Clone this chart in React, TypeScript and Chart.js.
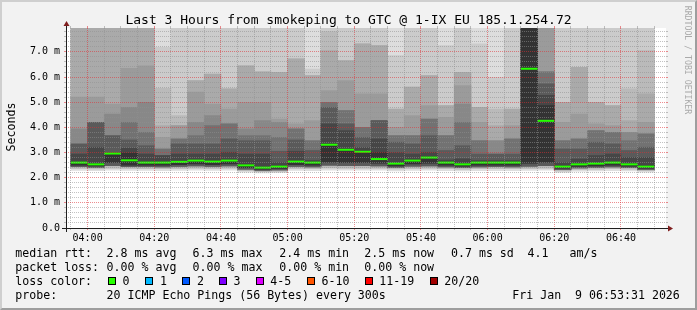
import React, { useEffect, useRef } from "react";
import { Chart, registerables } from "chart.js";

Chart.register(...registerables);

// ---------------- data ----------------
const titleText = "Last 3 Hours from smokeping to GTC @ 1-IX EU 185.1.254.72";
const yAxisTitle = "Seconds";
const windowStart = "03:53:31";
const windowEnd = "06:53:31";
const stepMinutes = 5;

// start time of each 5-minute column
const columnStarts = [
  "03:55", "04:00", "04:05", "04:10", "04:15", "04:20", "04:25", "04:30", "04:35", "04:40",
  "04:45", "04:50", "04:55", "05:00", "05:05", "05:10", "05:15", "05:20", "05:25", "05:30",
  "05:35", "05:40", "05:45", "05:50", "05:55", "06:00", "06:05", "06:10", "06:15", "06:20",
  "06:25", "06:30", "06:35", "06:40", "06:45",
];

// median rtt (ms)
const median = [
  2.60, 2.53, 2.96, 2.69, 2.60, 2.60, 2.63, 2.68, 2.64, 2.68,
  2.49, 2.40, 2.44, 2.64, 2.60, 3.31, 3.11, 3.03, 2.74, 2.56,
  2.68, 2.80, 2.60, 2.53, 2.60, 2.60, 2.60, 6.33, 4.26, 2.44,
  2.53, 2.56, 2.60, 2.53, 2.44,
];

// sorted ping percentiles, lower half (ms)
const lo1 = [
  2.29, 2.28, 2.30, 2.29, 2.29, 2.28, 2.29, 2.30, 2.29, 2.30,
  2.22, 2.19, 2.20, 2.29, 2.28, 2.30, 2.30, 2.30, 2.30, 2.27,
  2.29, 2.30, 2.28, 2.27, 2.28, 2.28, 2.28, 2.29, 2.30, 2.21,
  2.26, 2.27, 2.28, 2.27, 2.22,
];
const lo3 = [
  2.37, 2.35, 2.38, 2.37, 2.36, 2.36, 2.37, 2.38, 2.37, 2.38,
  2.28, 2.24, 2.26, 2.37, 2.36, 2.39, 2.38, 2.38, 2.38, 2.35,
  2.37, 2.38, 2.36, 2.34, 2.36, 2.36, 2.36, 2.37, 2.38, 2.27,
  2.33, 2.34, 2.36, 2.34, 2.28,
];
const lo8 = [
  2.44, 2.41, 2.48, 2.44, 2.44, 2.43, 2.45, 2.47, 2.45, 2.47,
  2.34, 2.29, 2.31, 2.45, 2.43, 2.50, 2.48, 2.48, 2.47, 2.41,
  2.46, 2.47, 2.43, 2.40, 2.43, 2.44, 2.43, 2.46, 2.48, 2.32,
  2.39, 2.41, 2.43, 2.40, 2.33,
];
const lo10 = [
  2.50, 2.47, 2.60, 2.50, 2.50, 2.50, 2.52, 2.55, 2.52, 2.55,
  2.40, 2.34, 2.37, 2.52, 2.50, 2.62, 2.60, 2.60, 2.58, 2.47,
  2.55, 2.58, 2.50, 2.46, 2.50, 2.50, 2.50, 2.58, 2.62, 2.38,
  2.45, 2.47, 2.50, 2.46, 2.38,
];

// sorted ping percentiles, upper half (ms)
const p11 = [
  2.62, 2.57, 2.98, 2.98, 2.62, 2.62, 2.65, 2.70, 2.66, 2.70,
  2.51, 2.42, 2.46, 2.66, 2.62, 3.34, 3.14, 3.05, 3.00, 2.58,
  2.70, 2.82, 2.62, 2.55, 2.62, 2.62, 2.62, 8.10, 4.87, 2.46,
  2.55, 2.58, 2.62, 2.55, 2.47,
];
const p12 = [
  2.94, 3.21, 2.98, 3.18, 2.94, 2.88, 2.94, 2.94, 2.94, 3.01,
  2.94, 2.94, 2.60, 3.05, 2.68, 4.14, 3.87, 3.20, 3.54, 3.00,
  2.94, 3.01, 2.70, 2.75, 2.68, 2.68, 2.68, 8.50, 5.27, 2.60,
  2.74, 2.88, 2.94, 2.81, 2.81,
];
const p13 = [
  3.34, 4.20, 3.67, 3.50, 3.27, 2.88, 3.34, 3.34, 3.34, 3.54,
  3.47, 3.47, 3.05, 3.50, 3.08, 4.80, 4.14, 3.60, 4.27, 3.41,
  3.34, 3.67, 3.08, 3.27, 2.94, 2.94, 2.94, 8.90, 5.73, 3.14,
  3.14, 3.41, 3.34, 3.08, 3.21,
];
const p14 = [
  3.34, 4.20, 3.67, 4.20, 3.80, 3.14, 3.54, 3.67, 4.07, 4.14,
  3.67, 3.67, 3.60, 3.94, 3.47, 5.00, 4.67, 4.00, 4.27, 3.67,
  3.67, 4.33, 3.67, 4.20, 3.47, 2.94, 3.54, 9.30, 6.21, 3.47,
  3.54, 3.87, 3.80, 3.47, 3.74,
];
const p15 = [
  3.94, 4.20, 4.53, 4.80, 5.00, 3.14, 3.54, 4.20, 4.47, 4.14,
  3.94, 4.27, 4.20, 3.94, 3.47, 5.00, 4.67, 4.00, 4.27, 3.67,
  3.67, 4.33, 3.67, 4.93, 3.47, 3.47, 3.54, 9.80, 6.21, 3.47,
  3.54, 3.87, 3.80, 3.80, 3.74,
];
const p16 = [
  5.20, 5.20, 4.93, 6.35, 6.45, 3.60, 4.07, 5.40, 4.93, 4.73,
  5.00, 5.00, 4.33, 4.14, 4.27, 5.46, 5.86, 5.33, 5.33, 4.00,
  4.47, 4.87, 4.40, 5.66, 4.20, 3.47, 4.07, 10.4, 8.60, 4.20,
  4.53, 4.14, 4.07, 3.80, 4.20,
];
const p17 = [
  8.60, 8.80, 8.70, 8.90, 8.70, 4.07, 4.07, 5.86, 6.12, 5.53,
  6.45, 6.21, 6.19, 6.72, 6.06, 7.05, 6.65, 7.32, 7.25, 4.73,
  5.60, 6.06, 4.87, 6.19, 4.80, 4.07, 4.73, 11.0, 9.20, 5.00,
  6.39, 5.00, 4.87, 4.27, 5.33,
];
const p18 = [
  9.20, 9.50, 9.40, 9.60, 9.40, 5.55, 4.47, 5.86, 6.12, 5.53,
  6.45, 6.21, 6.19, 6.72, 6.06, 7.81, 6.65, 7.32, 7.25, 4.73,
  5.60, 6.06, 4.87, 6.19, 4.80, 4.73, 4.73, 11.8, 9.90, 5.00,
  6.39, 5.00, 4.87, 5.53, 7.05,
];
const p19 = [
  9.90, 10.3, 10.1, 10.4, 10.2, 7.18, 8.60, 8.70, 8.80, 8.60,
  8.90, 8.70, 8.80, 8.90, 6.32, 8.80, 8.90, 9.00, 9.10, 6.85,
  8.70, 8.90, 7.25, 8.80, 7.32, 5.99, 8.70, 12.7, 10.7, 8.80,
  8.90, 8.70, 8.80, 8.90, 9.00,
];
const p20 = [
  10.7, 11.2, 11.0, 11.3, 11.1, 9.50, 9.40, 9.50, 9.60, 9.30,
  9.80, 9.60, 9.70, 9.90, 9.00, 9.80, 9.60, 9.90, 10.0, 9.00,
  9.50, 9.80, 9.20, 9.70, 9.30, 9.10, 9.50, 13.8, 11.6, 9.60,
  9.80, 9.50, 9.70, 9.90, 10.0,
];

const xTickLabels = ["04:00", "04:20", "04:40", "05:00", "05:20", "05:40", "06:00", "06:20", "06:40"];
const yMax = 7.95;
const yMinorStep = 0.2;
const yTickLabels = ["0.0", "1.0 m", "2.0 m", "3.0 m", "4.0 m", "5.0 m", "6.0 m", "7.0 m"];

const rttLabel = "median rtt:";
const rttStats = ["2.8 ms avg", "6.3 ms max", "2.4 ms min", "2.5 ms now", "0.7 ms sd", "4.1   am/s"];
const lossLabel = "packet loss:";
const lossStats = ["0.00 % avg", "0.00 % max", "0.00 % min", "0.00 % now"];
const lossColorLabel = "loss color:";
const lossBuckets = ["0", "1", "2", "3", "4-5", "6-10", "11-19", "20/20"];
const lossColors = ["#26ff00", "#00b8ff", "#0059ff", "#7e00ff", "#dd00ff", "#ff5500", "#ff0000", "#a10000"];
const probeLabel = "probe:";
const probeText = "20 ICMP Echo Pings (56 Bytes) every 300s";
const stampText = "Fri Jan  9 06:53:31 2026";
const watermark = "RRDTOOL / TOBI OETIKER";

// ---------------- styling / layout ----------------
const MONO = '"DejaVu Sans Mono", monospace';
const GRID = "rgba(143,143,143,0.55)";
const MGRID = "rgba(222,48,52,0.55)";
const AXIS = "#1f1f1f";
const ARROW = "#801f1f";
const LAYER_COLORS = ["#dddddd", "#cbcbcb", "#bababa", "#aaaaaa", "#9b9b9b", "#888888", "#727272", "#5a5a5a", "#464646", "#333333"];
const smokeHigh = [p20, p19, p18, p17, p16, p15, p14, p13, p12, p11];
const smokeLow = [lo1, lo3, lo3, lo8, lo8, lo8, lo8, lo8, lo10, lo10];

const statX = [107.3, 193.3, 280, 365, 451.7, 528.3];
const boxX = [108, 145, 182, 219, 256, 307, 365, 430];
const bucketX = [123.3, 160.7, 197.7, 234.3, 271, 322.3, 380, 445];

const toMinutes = (s: string) => {
  const [h, m, sec] = s.split(":").map(Number);
  return h * 60 + m + (sec || 0) / 60;
};
const fmtHM = (v: number) => {
  const t = Math.round(v);
  return `${String(Math.floor(t / 60)).padStart(2, "0")}:${String(t % 60).padStart(2, "0")}`;
};
const xMin = toMinutes(windowStart);
const xMax = toMinutes(windowEnd);
const isMajorX = (v: number) => Math.abs(v - Math.round(v)) < 1e-6 && xTickLabels.includes(fmtHM(v));
const isMajorY = (v: number) => Math.abs(v - Math.round(v)) < 1e-6;

const xGrid: number[] = [];
for (let v = Math.ceil(xMin / stepMinutes) * stepMinutes; v <= xMax; v += stepMinutes) xGrid.push(v);
const yGrid: number[] = [];
for (let i = 0; i * yMinorStep <= yMax + 1e-9; i++) yGrid.push(Math.round(i * yMinorStep * 10) / 10);

const align = (p: number) => Math.round(p - 0.5) + 0.5;

const rrdPlugin = {
  id: "rrdDecor",
  beforeDraw(chart: any) {
    const { ctx, chartArea: a } = chart;
    ctx.save();
    ctx.fillStyle = "#ffffff";
    ctx.fillRect(a.left, a.top, a.right - a.left, a.bottom - a.top);
    ctx.restore();
  },
  afterDraw(chart: any) {
    const { ctx, chartArea: a, scales } = chart;
    ctx.save();
    ctx.lineWidth = 1;
    const line = (x1: number, y1: number, x2: number, y2: number) => {
      ctx.beginPath();
      ctx.moveTo(x1, y1);
      ctx.lineTo(x2, y2);
      ctx.stroke();
    };
    scales.x.ticks.forEach((t: any) => {
      const px = align(scales.x.getPixelForValue(t.value));
      ctx.strokeStyle = isMajorX(t.value) ? MGRID : GRID;
      line(px, a.top - 2, px, a.top);
    });
    scales.y.ticks.forEach((t: any) => {
      const py = align(scales.y.getPixelForValue(t.value));
      ctx.strokeStyle = isMajorY(t.value) ? MGRID : GRID;
      line(a.right, py, a.right + 2, py);
    });
    ctx.strokeStyle = AXIS;
    const by = a.bottom + 0.5;
    const lx = a.left + 0.5;
    line(a.left - 4, by, a.right + 4, by);
    line(lx, a.bottom + 4, lx, a.top - 4);
    ctx.fillStyle = ARROW;
    ctx.beginPath();
    ctx.moveTo(a.right + 2, by - 3);
    ctx.lineTo(a.right + 2, by + 3);
    ctx.lineTo(a.right + 7, by);
    ctx.closePath();
    ctx.fill();
    ctx.beginPath();
    ctx.moveTo(lx - 3, a.top - 2);
    ctx.lineTo(lx + 3, a.top - 2);
    ctx.lineTo(lx, a.top - 7);
    ctx.closePath();
    ctx.fill();
    ctx.restore();
  },
};

function Txt({ x, base, size, children, color = "#000" }: any) {
  return (
    <div
      style={{
        position: "absolute",
        left: x,
        top: base - 0.846 * size,
        fontSize: size,
        lineHeight: `${size}px`,
        whiteSpace: "pre",
        color,
        fontFamily: MONO,
      }}
    >
      {children}
    </div>
  );
}

export default function App() {
  const ref = useRef<HTMLCanvasElement>(null);

  useEffect(() => {
    const canvas = ref.current;
    if (!canvas) return;
    const centers = columnStarts.map((s) => toMinutes(s) + stepMinutes / 2);

    const smokeSets = smokeHigh.map((high, i) => ({
      type: "bar" as const,
      data: centers.map((x, k) => ({ x, y: [smokeLow[i][k], high[k]] })),
      backgroundColor: LAYER_COLORS[i],
      borderWidth: 0,
      barPercentage: 1,
      categoryPercentage: 1,
      grouped: false,
      order: 100 - i,
    }));

    const medianSet = {
      type: "line" as const,
      data: centers.map((x, k) => ({ x, y: median[k] })),
      showLine: false,
      pointStyle: "line",
      pointRadius: (stepMinutes / 2) * (600 / (xMax - xMin)),
      pointHoverRadius: (stepMinutes / 2) * (600 / (xMax - xMin)),
      pointBorderWidth: 2,
      pointBorderColor: lossColors[0],
      pointBackgroundColor: lossColors[0],
      order: 0,
    };

    const chart = new Chart(canvas, {
      type: "bar",
      data: { datasets: [...smokeSets, medianSet] as any },
      plugins: [rrdPlugin],
      options: {
        responsive: false,
        animation: false,
        events: [],
        layout: { padding: { left: 0, top: 28, right: 31, bottom: 62 } },
        plugins: { legend: { display: false }, tooltip: { enabled: false }, title: { display: false } },
        scales: {
          x: {
            type: "linear",
            position: "bottom",
            min: xMin,
            max: xMax,
            offset: false,
            afterBuildTicks: (s: any) => {
              s.ticks = xGrid.map((v) => ({ value: v }));
            },
            afterFit: (s: any) => {
              s.height = 20;
            },
            grid: {
              z: 1,
              offset: false,
              lineWidth: 1,
              tickLength: 2,
              drawTicks: true,
              color: (c: any) => (c.tick && isMajorX(c.tick.value) ? MGRID : GRID),
            },
            border: { display: false, dash: [1, 1] },
            ticks: {
              autoSkip: false,
              maxRotation: 0,
              minRotation: 0,
              padding: 2,
              color: "#000",
              font: { family: MONO, size: 10 },
              callback: (v: any) => (isMajorX(Number(v)) ? fmtHM(Number(v)) : ""),
            },
          },
          y: {
            type: "linear",
            min: 0,
            max: yMax,
            afterBuildTicks: (s: any) => {
              s.ticks = yGrid.map((v) => ({ value: v }));
            },
            afterFit: (s: any) => {
              s.width = 66;
            },
            grid: {
              z: 1,
              lineWidth: 1,
              tickLength: 2,
              drawTicks: true,
              color: (c: any) => (c.tick && isMajorY(c.tick.value) ? MGRID : GRID),
            },
            border: { display: false, dash: [1, 1] },
            ticks: {
              autoSkip: false,
              padding: 4,
              color: "#000",
              font: { family: MONO, size: 10 },
              callback: (v: any) => (isMajorY(Number(v)) ? yTickLabels[Math.round(Number(v))] ?? "" : ""),
            },
          },
        },
      } as any,
    });
    return () => chart.destroy();
  }, []);

  const S = 11.6;
  return (
    <div
      style={{
        position: "absolute",
        left: 0,
        top: 0,
        width: 697,
        height: 310,
        background: "#f2f2f2",
        overflow: "hidden",
      }}
    >
      <canvas ref={ref} width={697} height={310} style={{ position: "absolute", left: 0, top: 0 }} />
      <div
        style={{
          position: "absolute",
          left: 0,
          top: 0,
          width: 697,
          height: 310,
          boxSizing: "border-box",
          borderTop: "2px solid #cfcfcf",
          borderLeft: "2px solid #cfcfcf",
          borderBottom: "2px solid #9e9e9e",
          borderRight: "2px solid #9e9e9e",
          pointerEvents: "none",
        }}
      />
      <div
        style={{
          position: "absolute",
          left: 0,
          width: 697,
          top: 24 - 0.846 * 13,
          fontSize: 13,
          lineHeight: "13px",
          textAlign: "center",
          whiteSpace: "pre",
          fontFamily: MONO,
          color: "#000",
        }}
      >
        {titleText}
      </div>
      <div
        style={{
          position: "absolute",
          left: 11 - 30,
          top: 127 - 7,
          width: 60,
          height: 14,
          lineHeight: "14px",
          fontSize: S,
          textAlign: "center",
          fontFamily: MONO,
          color: "#000",
          transform: "rotate(-90deg)",
        }}
      >
        {yAxisTitle}
      </div>
      <div
        style={{
          position: "absolute",
          left: 687.8 - 60,
          top: 59.5 - 5,
          width: 120,
          height: 10,
          lineHeight: "10px",
          fontSize: 8.2,
          textAlign: "center",
          whiteSpace: "pre",
          fontFamily: MONO,
          color: "#aaaaaa",
          transform: "rotate(90deg)",
        }}
      >
        {watermark}
      </div>

      <Txt x={15.3} base={258.3} size={S}>{rttLabel}</Txt>
      {rttStats.map((t, i) => (
        <Txt key={"r" + i} x={statX[i] - 0.7} base={258.3} size={S}>{t}</Txt>
      ))}
      <Txt x={15.3} base={272.3} size={S}>{lossLabel}</Txt>
      {lossStats.map((t, i) => (
        <Txt key={"l" + i} x={statX[i] - 0.7} base={272.3} size={S}>{t}</Txt>
      ))}
      <Txt x={15.3} base={286.3} size={S}>{lossColorLabel}</Txt>
      {lossBuckets.map((t, i) => (
        <React.Fragment key={"b" + i}>
          <div
            style={{
              position: "absolute",
              left: boxX[i],
              top: 277,
              width: 8,
              height: 8,
              boxSizing: "border-box",
              border: "1px solid #000",
              background: lossColors[i],
            }}
          />
          <Txt x={bucketX[i] - 0.7} base={286.3} size={S}>{t}</Txt>
        </React.Fragment>
      ))}
      <Txt x={15.3} base={300.3} size={S}>{probeLabel}</Txt>
      <Txt x={107.3 - 0.7} base={300.3} size={S}>{probeText}</Txt>
      <Txt x={513 - 0.7} base={300.3} size={S}>{stampText}</Txt>
    </div>
  );
}
